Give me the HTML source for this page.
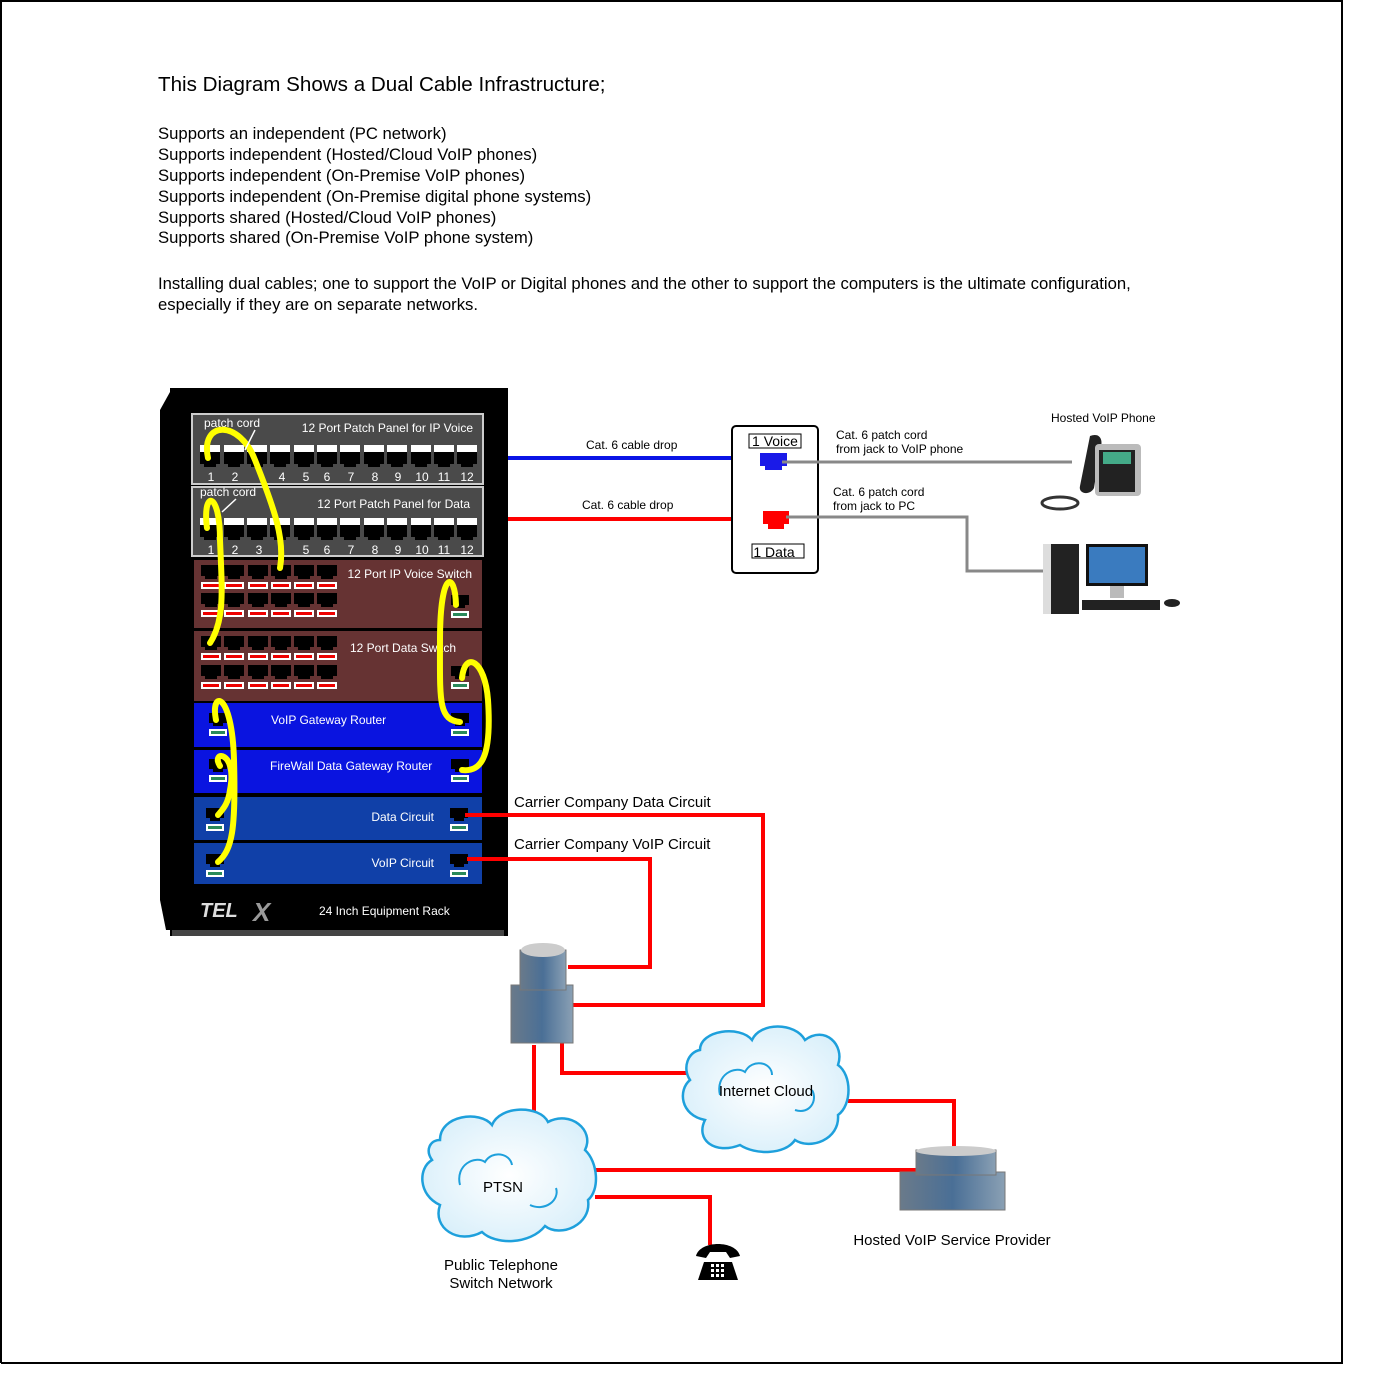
<!DOCTYPE html>
<html><head><meta charset="utf-8"><style>
html,body{margin:0;padding:0;background:#fff}
svg{display:block}
text{font-family:"Liberation Sans",Arial,sans-serif}
</style></head><body>
<svg width="1383" height="1390" viewBox="0 0 1383 1390" xmlns="http://www.w3.org/2000/svg">
<defs>
<g id="pp"><rect x="-10" y="0" width="20" height="7" fill="#fff"/><path d="M-10 7h20v12h-4v3h-12v-3h-4z" fill="#000"/></g>
<g id="sp"><path d="M-10 0h20v11h-4v3h-12v-3h-4z" fill="#000"/><rect x="-10" y="17" width="20" height="7" fill="#fff"/><rect x="-8" y="19" width="16" height="3" fill="#e00"/></g>
<g id="gp"><path d="M-9 0h18v10h-4v3h-10v-3h-4z" fill="#000"/><rect x="-9" y="16" width="18" height="7" fill="#fff"/><rect x="-7" y="18" width="14" height="3" fill="#2a8a5a"/></g>
<radialGradient id="cg" cx="50%" cy="50%" r="60%"><stop offset="0" stop-color="#fff"/><stop offset="1" stop-color="#d6eefa"/></radialGradient>
<linearGradient id="bg" x1="0" x2="1"><stop offset="0" stop-color="#6a7a8a"/><stop offset="0.5" stop-color="#4a6f96"/><stop offset="1" stop-color="#8aa0b4"/></linearGradient>
</defs>
<path d="M1 1363V1H1342V1363H1" fill="none" stroke="#000" stroke-width="2"/>

<text x="158" y="91" font-size="20.6">This Diagram Shows a Dual Cable Infrastructure;</text>
<g font-size="16.7">
<text x="158" y="139">Supports an independent (PC network)</text>
<text x="158" y="160">Supports independent (Hosted/Cloud VoIP phones)</text>
<text x="158" y="181">Supports independent (On-Premise VoIP phones)</text>
<text x="158" y="202">Supports independent (On-Premise digital phone systems)</text>
<text x="158" y="223">Supports shared (Hosted/Cloud VoIP phones)</text>
<text x="158" y="243">Supports shared (On-Premise VoIP phone system)</text>
<text x="158" y="289">Installing dual cables; one to support the VoIP or Digital phones and the other to support the computers is the ultimate configuration,</text>
<text x="158" y="310">especially if they are on separate networks.</text>
</g>

<path d="M160 410 L170 392 L170 930 L166 930 L160 900Z" fill="#000"/>
<rect x="170" y="388" width="338" height="548" fill="#000"/>
<rect x="172" y="930" width="332" height="6" fill="#444"/>
<rect x="192" y="414" width="291" height="70" fill="#4a4a4a" stroke="#ccc" stroke-width="2"/>
<rect x="192" y="487" width="291" height="69" fill="#4a4a4a" stroke="#ccc" stroke-width="2"/>
<g font-size="12" fill="#fff">
<text x="204" y="427">patch cord</text>
<text x="473" y="432" text-anchor="end">12 Port Patch Panel for IP Voice</text>
<text x="200" y="496">patch cord</text>
<text x="470" y="508" text-anchor="end">12 Port Patch Panel for Data</text>
</g>
<g>
<use href="#pp" x="210" y="445"/><use href="#pp" x="234" y="445"/><use href="#pp" x="257" y="445"/><use href="#pp" x="280" y="445"/><use href="#pp" x="304" y="445"/><use href="#pp" x="327" y="445"/><use href="#pp" x="350" y="445"/><use href="#pp" x="374" y="445"/><use href="#pp" x="397" y="445"/><use href="#pp" x="421" y="445"/><use href="#pp" x="444" y="445"/><use href="#pp" x="467" y="445"/>
<use href="#pp" x="210" y="518"/><use href="#pp" x="234" y="518"/><use href="#pp" x="257" y="518"/><use href="#pp" x="280" y="518"/><use href="#pp" x="304" y="518"/><use href="#pp" x="327" y="518"/><use href="#pp" x="350" y="518"/><use href="#pp" x="374" y="518"/><use href="#pp" x="397" y="518"/><use href="#pp" x="421" y="518"/><use href="#pp" x="444" y="518"/><use href="#pp" x="467" y="518"/>
</g>
<g font-size="12" fill="#fff" text-anchor="middle">
<text x="211" y="481">1</text><text x="235" y="481">2</text><text x="282" y="481">4</text><text x="306" y="481">5</text><text x="327" y="481">6</text><text x="351" y="481">7</text><text x="375" y="481">8</text><text x="398" y="481">9</text><text x="422" y="481">10</text><text x="444" y="481">11</text><text x="467" y="481">12</text>
<text x="211" y="554">1</text><text x="235" y="554">2</text><text x="259" y="554">3</text><text x="306" y="554">5</text><text x="327" y="554">6</text><text x="351" y="554">7</text><text x="375" y="554">8</text><text x="398" y="554">9</text><text x="422" y="554">10</text><text x="444" y="554">11</text><text x="467" y="554">12</text>
</g>
<rect x="194" y="560" width="288" height="68" fill="#663333"/>
<rect x="194" y="631" width="288" height="70" fill="#663333"/>
<g>
<use href="#sp" x="211" y="565"/><use href="#sp" x="234" y="565"/><use href="#sp" x="258" y="565"/><use href="#sp" x="281" y="565"/><use href="#sp" x="304" y="565"/><use href="#sp" x="327" y="565"/>
<use href="#sp" x="211" y="593"/><use href="#sp" x="234" y="593"/><use href="#sp" x="258" y="593"/><use href="#sp" x="281" y="593"/><use href="#sp" x="304" y="593"/><use href="#sp" x="327" y="593"/>
<use href="#sp" x="211" y="636"/><use href="#sp" x="234" y="636"/><use href="#sp" x="258" y="636"/><use href="#sp" x="281" y="636"/><use href="#sp" x="304" y="636"/><use href="#sp" x="327" y="636"/>
<use href="#sp" x="211" y="665"/><use href="#sp" x="234" y="665"/><use href="#sp" x="258" y="665"/><use href="#sp" x="281" y="665"/><use href="#sp" x="304" y="665"/><use href="#sp" x="327" y="665"/>
<use href="#gp" x="460" y="595"/><use href="#gp" x="460" y="666"/>
</g>
<g font-size="12" fill="#fff">
<text x="472" y="578" text-anchor="end">12 Port IP Voice Switch</text>
<text x="350" y="652">12 Port Data Switch</text>
</g>
<rect x="194" y="703" width="288" height="44" fill="#0a14e0"/>
<rect x="194" y="750" width="288" height="43" fill="#0a14e0"/>
<rect x="194" y="797" width="288" height="43" fill="#1040a8"/>
<rect x="194" y="843" width="288" height="41" fill="#1040a8"/>
<g>
<use href="#gp" x="218" y="713"/><use href="#gp" x="218" y="759"/><use href="#gp" x="215" y="808"/><use href="#gp" x="215" y="854"/>
<use href="#gp" x="460" y="713"/><use href="#gp" x="460" y="759"/><use href="#gp" x="459" y="808"/><use href="#gp" x="459" y="854"/>
</g>
<g font-size="12" fill="#fff">
<text x="271" y="724">VoIP Gateway Router</text>
<text x="270" y="770">FireWall Data Gateway Router</text>
<text x="434" y="821" text-anchor="end">Data Circuit</text>
<text x="434" y="867" text-anchor="end">VoIP Circuit</text>
<text x="319" y="915">24 Inch Equipment Rack</text>
</g>
<text x="200" y="917" font-size="20" font-weight="bold" font-style="italic" fill="#ddd">TEL</text>
<text x="253" y="921" font-size="26" font-weight="bold" font-style="italic" fill="#999">X</text>
<g fill="none" stroke="#ffff00" stroke-width="6" stroke-linecap="round">
<path d="M208 458 C200 420 240 420 255 460 C275 510 285 540 280 568"/>
<path d="M207 528 C202 490 220 490 220 540 C222 590 225 620 210 643"/>
<path d="M456 605 C455 570 440 570 440 640 C440 700 438 720 460 722"/>
<path d="M462 678 C465 650 485 660 488 700 C492 760 480 772 462 770"/>
<path d="M216 720 C210 690 232 690 234 760 C236 830 232 850 218 862"/>
<path d="M220 766 C210 750 238 750 230 790 C228 805 222 810 218 815"/>
</g>
<g stroke="#fff" stroke-width="1.5"><line x1="255" y1="430" x2="245" y2="450"/><line x1="236" y1="499" x2="222" y2="512"/></g>

<line x1="508" y1="458" x2="733" y2="458" stroke="#0a14e6" stroke-width="4"/>
<line x1="508" y1="519" x2="733" y2="519" stroke="#f00" stroke-width="4"/>
<g font-size="12"><text x="586" y="449">Cat. 6 cable drop</text><text x="582" y="509">Cat. 6 cable drop</text></g>
<rect x="732" y="426" width="86" height="147" rx="4" fill="#fff" stroke="#000" stroke-width="2"/>
<rect x="749" y="434" width="52" height="14" fill="#fff" stroke="#000"/>
<text x="775" y="446" font-size="14" text-anchor="middle">1 Voice</text>
<rect x="752" y="544" width="52" height="14" fill="#fff" stroke="#000"/>
<text x="774" y="557" font-size="14" text-anchor="middle">1 Data</text>
<path d="M760 453h27v13h-5v4h-17v-4h-5z" fill="#1a1ae8"/>
<path d="M763 511h26v13h-5v5h-16v-5h-5z" fill="#f00"/>
<g fill="none" stroke="#888" stroke-width="3">
<path d="M782 462H1072"/>
<path d="M786 517H967V571H1044"/>
</g>
<g font-size="12">
<text x="836" y="439">Cat. 6 patch cord</text><text x="836" y="453">from jack to VoIP phone</text>
<text x="833" y="496">Cat. 6 patch cord</text><text x="833" y="510">from jack to PC</text>
<text x="1051" y="422">Hosted VoIP Phone</text>
</g>
<g>
<path d="M1090 436 C1100 432 1104 440 1100 450 L1094 488 C1090 496 1078 494 1080 486Z" fill="#222"/>
<rect x="1095" y="444" width="46" height="52" rx="4" fill="#bbb"/>
<rect x="1099" y="450" width="36" height="42" fill="#222"/>
<rect x="1103" y="452" width="28" height="12" fill="#4a8"/>
<ellipse cx="1060" cy="503" rx="18" ry="6" fill="none" stroke="#333" stroke-width="3"/>
</g>
<g>
<rect x="1043" y="544" width="36" height="70" fill="#222"/><rect x="1043" y="544" width="8" height="70" fill="#ddd"/>
<rect x="1086" y="544" width="62" height="42" fill="#111"/><rect x="1089" y="547" width="56" height="36" fill="#3a7bbf"/>
<rect x="1110" y="586" width="14" height="12" fill="#bbb"/>
<rect x="1082" y="600" width="78" height="10" fill="#222"/>
<ellipse cx="1172" cy="603" rx="8" ry="4" fill="#222"/>
</g>

<g fill="none" stroke="#f00" stroke-width="4">
<path d="M465 815H763V1005H572"/>
<path d="M467 859H650V967H568"/>
<path d="M562 1030V1073H688"/>
<path d="M534 1045V1125"/>
<path d="M848 1101H954V1148"/>
<path d="M583 1170H918"/>
<path d="M595 1197H710V1245"/>
</g>
<g font-size="15">
<text x="514" y="807">Carrier Company Data Circuit</text>
<text x="514" y="849">Carrier Company VoIP Circuit</text>
</g>
<g>
<rect x="511" y="985" width="62" height="58" fill="url(#bg)" stroke="#777"/>
<rect x="520" y="950" width="46" height="40" fill="url(#bg)" stroke="#777"/>
<ellipse cx="543" cy="950" rx="22" ry="7" fill="#ccc"/>
</g>
<g>
<rect x="900" y="1172" width="105" height="38" fill="url(#bg)" stroke="#777"/>
<rect x="916" y="1150" width="80" height="25" fill="url(#bg)" stroke="#777"/>
<ellipse cx="956" cy="1151" rx="40" ry="5" fill="#ccc"/>
</g>
<g fill="url(#cg)" stroke="#1ea0dc" stroke-width="2.5">
<path d="M700 1050 C700 1030 740 1025 752 1040 C760 1022 795 1022 805 1040 C825 1025 845 1045 838 1065 C852 1075 852 1105 838 1115 C840 1140 810 1150 795 1140 C785 1155 755 1155 740 1145 C715 1155 695 1140 705 1120 C680 1115 678 1090 690 1080 C682 1068 688 1052 700 1050Z"/>
<path d="M440 1140 C440 1115 480 1110 492 1125 C500 1105 540 1105 548 1122 C570 1110 595 1130 585 1150 C598 1162 600 1190 588 1200 C592 1225 560 1238 545 1226 C530 1245 495 1245 482 1232 C458 1245 432 1228 440 1205 C418 1195 418 1168 432 1160 C425 1150 430 1140 440 1140Z"/>
</g>
<g fill="none" stroke="#1ea0dc" stroke-width="2">
<path d="M720 1095 C715 1075 735 1065 745 1072 C752 1058 772 1062 772 1075"/>
<path d="M795 1110 C810 1115 818 1100 812 1090"/>
<path d="M460 1185 C455 1165 475 1155 485 1162 C492 1150 510 1153 512 1165"/>
<path d="M530 1205 C545 1212 560 1200 556 1188"/>
</g>
<text x="766" y="1096" font-size="15" text-anchor="middle">Internet Cloud</text>
<text x="503" y="1192" font-size="15" text-anchor="middle">PTSN</text>
<g font-size="15" text-anchor="middle">
<text x="501" y="1270">Public Telephone</text><text x="501" y="1288">Switch Network</text>
<text x="952" y="1245">Hosted VoIP Service Provider</text>
</g>
<g fill="#000">
<path d="M696 1256 C700 1240 736 1240 740 1256 L730 1258 L726 1252 L710 1252 L706 1258Z"/>
<path d="M704 1262 h28 l6 18 h-40z"/>
<g fill="#fff"><rect x="711" y="1264" width="3" height="3"/><rect x="716" y="1264" width="3" height="3"/><rect x="721" y="1264" width="3" height="3"/><rect x="711" y="1269" width="3" height="3"/><rect x="716" y="1269" width="3" height="3"/><rect x="721" y="1269" width="3" height="3"/><rect x="711" y="1274" width="3" height="3"/><rect x="716" y="1274" width="3" height="3"/><rect x="721" y="1274" width="3" height="3"/></g>
</g>
</svg>
</body></html>
